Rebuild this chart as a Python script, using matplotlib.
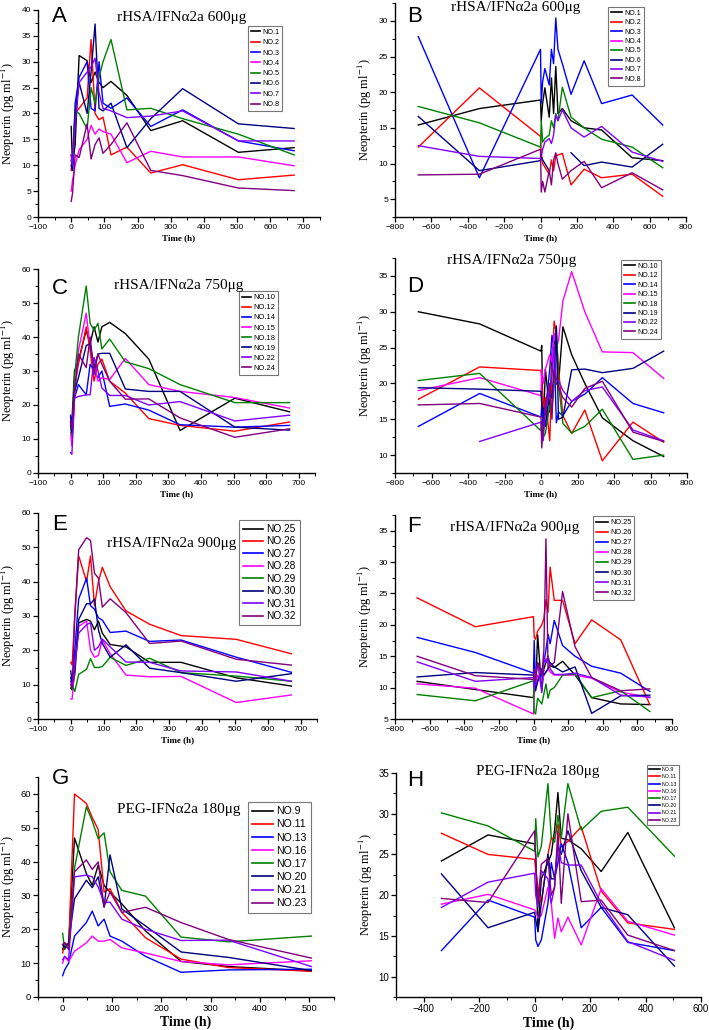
import numpy as np
import matplotlib
matplotlib.use('Agg')
import matplotlib.pyplot as plt
from matplotlib.ticker import MultipleLocator

plt.rcParams['font.family'] = ['Liberation Sans', 'DejaVu Sans']
plt.rcParams['mathtext.fontset'] = 'stix'

nan = np.nan
colors = ['#000000', '#FF0000', '#0000FF', '#FF00FF', '#008000', '#000080', '#8000FF', '#800080']

# ---- time points ----
t_post = [0, 4, 12, 24, 48, 60, 72, 84, 96, 120, 168, 240, 336, 504, 672]
t_full = [-672, -336, 0, 4, 12, 24, 48, 60, 72, 84, 96, 120, 168, 240, 336, 504, 672]
t_peg = [0, 4, 12, 24, 48, 60, 72, 84, 96, 120, 168, 240, 336, 504]
t_peg_full = [-336, -168, 0, 4, 12, 24, 48, 60, 72, 84, 96, 120, 168, 240, 336, 504]

# ---- subjects ----
names_600 = ['NO.1', 'NO.2', 'NO.3', 'NO.4', 'NO.5', 'NO.6', 'NO.7', 'NO.8']
names_750 = ['NO.10', 'NO.12', 'NO.14', 'NO.15', 'NO.18', 'NO.19', 'NO.22', 'NO.24']
names_900 = ['NO.25', 'NO.26', 'NO.27', 'NO.28', 'NO.29', 'NO.30', 'NO.31', 'NO.32']
names_peg = ['NO.9', 'NO.11', 'NO.13', 'NO.16', 'NO.17', 'NO.20', 'NO.21', 'NO.23']

# ---- A: 600ug, post-dose ----
A_vals = [
    [17.5, 10, 14, 31.2, 30.2, 26, 28, 26, 25, 26.2, 23.5, 16.7, 18.6, 12.5, 13.4],
    [9, 12, 20, 21, 23, 34.3, 20, 18.8, 19.3, 12, 13.5, 8.5, 10.1, 7.2, 8.1],
    [11, 9, 22, 27, 30, 21, 20.5, 30, 22, 21, 23, 17.5, 20.7, 14.7, 12.8],
    [5, 7, 10, 13, 15, 17.7, 16, 17, 16.5, 16, 10.5, 12.7, 11.6, 11.6, 9.9],
    [12, 10, 20.5, 20, 17, 25, 22, 27, 30, 34.3, 20.7, 21, 19, 16, 12],
    [10, 9, 20, 26, 20, 28, 37.3, 21, 20.5, 22, 13.4, 19, 24.8, 18, 17.1],
    [12, 10, 18, 26, 28, 29, 30.7, 24, 21, 20.5, 19.2, 19.5, 20.5, 14.7, 14.7],
    [3, 4.5, 12, 11.5, 18, 11.2, 14, 15.3, 12.3, 14, 18.2, 9, 8, 5.6, 5.1],
]

# ---- B: 600ug, with pre-dose ----
B_vals = [
    [15.4, 17.7, 18.9, 16, 18.5, 20.6, 16.5, 22, 17, 23.6, 17, 17.7, 16, 15, 14.7, 10.8, 10.4],
    [12.3, 20.6, 13.8, 11.5, 10, 9.5, 8.5, 10.5, 9, 11, 11.2, 11.4, 7, 9.2, 8, 8.5, 5.4],
    [27.8, 8, 26, 18.5, 21.5, 23.3, 21, 26, 24, 30.4, 26, 24, 19.7, 24.4, 18.4, 19.6, 15.4],
    [nan] * 17,
    [18, 15.7, 12.3, 16, 13, 13.5, 14, 16, 15, 17, 16, 20.7, 16.5, 15, 13.4, 12.3, 9.4],
    [16.6, 9, 10.4, 11, 10.5, 10, 9, nan, nan, nan, nan, nan, 11.5, 9.7, 10.2, 9.5, 12.7],
    [12.5, 11, 10.7, 11, 12, 13, 13.5, 12.8, 14, 16.8, 16, 17.5, 15, 13.7, 15.2, 11.6, 10.3],
    [8.4, 8.5, 12, 6, 7.5, 6, 9, 7, 10.5, 11.5, 10, 7.8, 9, 10.3, 6.6, 8.7, 6.3],
]

# ---- C: 750ug, post-dose ----
C_vals = [
    [16.5, 15, 30, 33, 42, 38, 43, 38.5, 43, 44.3, 41, 33.5, 12.5, 22, 18],
    [14, 12, 25, 32, 43, 36, 27, 32, 33.5, 27, 23.5, 16, 14, 12.3, 15],
    [17, 10, 22, 26, 23, 32, 30, 28, 30, 19.6, 20.3, 18.5, 14.2, 13.5, 14],
    [12, 8, 22, 36, 47, 37, 32, 27, 28, 27.5, 33.7, 26, 24, 22.2, 19.1],
    [14, 11, 28, 40, 55, 44, 42, 44, 36.5, 39.4, 32.7, 30.7, 26, 20.7, 20.7],
    [15, 12, 24, 28, 37.5, 38, 31, 35, 35.2, 35.2, 24.7, 24, 24, 13.5, 12.6],
    [6, 5.5, 22, 22.5, 23, 23, 34, 30, 25, 22.8, 22.8, 20, 21, 15.3, 17],
    [15, 13, 24, 35, 31, 40, 29, 35, 32, 27, 21.7, 21.8, 16.2, 10.5, 13],
]

# ---- D: 750ug, with pre-dose ----
D_vals = [
    [30, 28.3, 24.5, 25.3, 13, 22, 16, 24, 26, 25, 20, 27.9, 24, 20, 15.2, 12, 9.8],
    [17.8, 22.3, 21.8, 20.5, 16, 18, 12, 22, 28.7, 27, 22, 15.5, 13, 16.3, 9.2, 14.6, 11.8],
    [14, 18.6, 15.3, 17, 14, 16, 22, 26.7, 25, 14.5, 16, 15.5, 17.5, 18.5, 20.8, 17.2, 15.9],
    [19, 20.8, 18.3, 22, 20, 22, 24, 23, 27, 25, 26, 31.5, 35.6, 30, 24.4, 24.3, 20.7],
    [20.4, 21.4, 13.4, 14, 12.5, 13, 17, 16.5, 20, 28, 20, 14.4, 13.1, 14, 16.4, 9.4, 10],
    [19.4, 19.2, 18.9, 17, 16.5, 14, 19, 18, 22, 28, 15, 15.3, 21.9, 22, 21.5, 22.1, 24.5],
    [nan, 11.9, 14.6, 13, 12, 16, 19, 21, 25, 20.5, 20.4, 19, 17.5, 19, 19.5, 13.5, 12],
    [17, 17.2, 15.3, 11, 14, 17, 20, 15, 22, 20, 19.5, 18, 16.7, 19.3, 20.3, 13.2, 11.9],
]

# ---- E: 900ug, post-dose ----
E_vals = [
    [9, 8.5, 13, 28, 29, 28.5, 26, 28.5, 25, 21.7, 21, 16.5, 16.5, 12, 9.6],
    [16.5, 15.7, 30, 47.5, 40, 47.5, 33, 40, 44.2, 38.5, 31.5, 27.6, 24.3, 23.2, 19],
    [12, 9, 20, 35, 41, 33, 32, 29.5, 28.8, 25.2, 25.6, 22.6, 23, 18, 13.6],
    [5.8, 5.8, 15, 27, 28.5, 20, 18, 18.5, 23, 19, 12.8, 12.3, 12.4, 4.8, 7],
    [9, 10, 8, 13, 14.5, 17.6, 15, 15, 15.3, 18, 15.6, 17.7, 13.5, 12.5, 11],
    [14, 10, 15, 29, 33.6, 33.5, 35, 26, 22, 18, 21.6, 14.8, 13.5, 11, 13.2],
    [11, 9, 16, 25, 27.5, 28, 20, 21, 23.3, 21, 16.6, 16.5, 14, 13.7, 11],
    [10, 9, 30, 49.3, 52.8, 52, 42.5, 41, 32.6, 35, 31, 22, 22.7, 17.4, 15.7],
]

# ---- F: 900ug, with pre-dose ----
F_vals = [
    [11, 9.7, 8.4, 12, 10, 18.4, 9.5, 13, 14, 15, 13.5, 13.2, 14.2, 12, 8.4, 7.4, 7.3],
    [24.3, 19.7, 21.3, 18, 17.7, 19, 20, 21, 24, 22, 29.2, 23.9, 23.9, 17, 20.8, 17.6, 7.3],
    [18, 15.6, 12.3, 17.5, 10, 11, 12, 14, 16, 18.5, 17, 20.7, 16.7, 15, 13.4, 12.3, 9.4],
    [10.6, 9.9, 5.8, 9, 10, 12, 11, 12, 12.5, 13, 12.5, 12, 12, 12, 11.5, 9.3, 8.4],
    [8.9, 7.9, 11.1, 6, 5.8, 8.3, 7.4, 9, 10.6, 8.3, 9.6, 10, 12, 12.2, 8.4, 9.5, 6.2],
    [11.7, 12.4, 12, 11, 9.5, 11, 13, 12, 12.5, 13, 14, 13.3, 12.5, 13.3, 5.9, 8.7, 8.8],
    [14.1, 11, 11.6, 10, 12, 14, 9.2, 15, 14, 15, 13, 12.1, 12.1, 12.3, 11.6, 8.8, 8.5],
    [15, 11.9, 11.3, 13, 11, 14, 12, 16, 33.7, 13, 13.5, 14, 25.3, 16.5, 11.6, 9.5, 9.8],
]

# ---- G: PEG 180ug, post-dose ----
G_vals = [
    [14, 16, 15, 47, 36.5, 33, 39, 33, 31, 27.5, 19.5, 10.5, 9, 7.7],
    [13, 16, 15, 60, 57.2, 53, 49.5, 31, 32, 25, 17.5, 11.2, 8.7, 7.6],
    [6.3, 8, 10, 18, 22, 25.4, 21, 23, 18, 16.5, 12, 7.3, 8, 8.2],
    [10, 12, 10.5, 13.5, 16, 18, 16.5, 16.5, 17, 14.5, 13, 10.5, 9.5, 10.7],
    [18.8, 14, 16, 38, 56.2, 52, 46.8, 48.5, 37, 31.5, 29.8, 17.7, 16.3, 18],
    [15.5, 14.5, 16, 29, 34.5, 32.3, 35.5, 26.5, 42, 26, 21, 13.3, 11.7, 7.8],
    [11, 12, 11, 35.5, 36, 35.5, 32.5, 28, 28, 23, 20, 16.7, 16.8, 9],
    [15.5, 16, 14, 37, 40.5, 37.7, 39.9, 26.7, 31, 25, 26.5, 22, 17, 11.5],
]

# ---- H: PEG 180ug, with pre-dose ----
H_vals = [
    [24.2, 27.4, 26.3, 25, 15.6, 22, 24, 25, 28, 32.6, 27, 26.8, 25.7, 22.9, 27.7, 16],
    [27.6, 25, 24.4, 23, 21, 19, 25, 27, 27, 28.7, 26, 26.6, 28.4, 20.5, 16.6, 15.8],
    [13.2, 19.4, 17.3, 14.5, 13.7, 14.5, 19, 24, 22, 24, 26.3, 24, 16, 18.5, 14.2, 13.2],
    [18.9, 20.1, 18.2, 18, 17.2, 17.5, 21, 19, 14.7, 17.2, 15.5, 17.3, 13.9, 20.8, 16.8, 15.1],
    [30.1, 28.5, 25.4, 29.4, 24.7, 26, 33.7, 27, 26.5, 29.8, 27, 33.7, 28, 30.3, 30.8, 24.8],
    [22.6, 16, 17.9, 17, 15.5, 19, 25, 22, 22, 26, 25, 27.9, 23, 18.5, 17.6, 11.3],
    [18.5, 21.6, 22.7, 20, 18.5, 23, 22, 19, 21, 26.5, 24, 23.7, 23.7, 19, 14.3, 12],
    [19.6, 19.1, 27.9, 24, 19, 23.8, 24.5, 20, 21, 28, 19, 30, 19.2, 19.4, 15.1, 13.2],
]

W, H = 709, 1030
fig = plt.figure(figsize=(W / 100, H / 100), dpi=100)
fig.patch.set_facecolor('white')


def px_axes(l, t, r, b):
    return fig.add_axes([l / W, 1 - b / H, (r - l) / W, (b - t) / H])


# (letter, title, t, vals, names, axes px, xlim, xmaj, xmin, ylim, ymaj, ymin,
#  title pos, letter pos, legend pos, legend font, row gap, handle len, tick font, xlabel font)
panels = [
    ('A', 'rHSA/IFNα2a 600μg', t_post, A_vals, names_600, (38, 10, 320, 217),
     (-100, 750), 100, 50, (0, 40), 5, 2.5, (182, 18), (52, 17), (248, 26), 5.2, 0.45, 1.3, 6, 6.5),
    ('B', 'rHSA/IFNα2a 600μg', t_full, B_vals, names_600, (395, 3, 686, 217),
     (-800, 800), 200, 100, (2.5, 32.5), 5, 2.5, (516, 8), (407, 17), (608, 7), 5.0, 0.35, 1.6, 6, 6.5),
    ('C', 'rHSA/IFNα2a 750μg', t_post, C_vals, names_750, (38, 269, 315, 473),
     (-100, 750), 100, 50, (0, 60), 10, 5, (179, 285), (52, 288), (239, 291), 5.4, 0.38, 1.2, 6, 6.5),
    ('D', 'rHSA/IFNα2a 750μg', t_full, D_vals, names_750, (395, 258, 687, 473),
     (-800, 800), 200, 100, (7.5, 37.5), 5, 2.5, (512, 261), (407, 287), (621, 260), 5.0, 0.35, 1.6, 6, 6.5),
    ('E', 'rHSA/IFNα2a 900μg', t_post, E_vals, names_900, (38, 513, 317, 719),
     (-100, 750), 100, 50, (0, 60), 10, 5, (172, 543), (52, 525), (239, 520), 7.3, 0.24, 2.0, 6, 6.5),
    ('F', 'rHSA/IFNα2a 900μg', t_full, F_vals, names_900, (395, 515, 672, 719),
     (-800, 800), 200, 100, (5, 37.5), 5, 2.5, (515, 527), (407, 527), (593, 516), 5.3, 0.4, 1.6, 6, 6.5),
    ('G', 'PEG-IFNα2a 180μg', t_peg, G_vals, names_peg, (38, 777, 334, 997),
     (-50, 550), 100, 50, (0, 65), 10, 5, (179, 810), (52, 778), (248, 802), 7.6, 0.3, 2.0, 6.8, 10),
    ('H', 'PEG-IFNα2a 180μg', t_peg_full, H_vals, names_peg, (396, 773, 701, 997),
     (-500, 600), 200, 100, (7.5, 35), 5, 2.5, (538, 771), (407, 780), (647, 765), 3.8, 0.42, 2.0, 7, 10),
]

for (letter, title, tt, vals, names, box, xlim, xmaj, xmin, ylim, ymaj, ymin,
     tpos, lpos, legpos, legfs, rowgap, hlen, tickfs, xlfs) in panels:
    ax = px_axes(*box)
    for i, (v, name) in enumerate(zip(vals, names)):
        ax.plot(tt, v, color=colors[i], lw=1.0, label=name)
    ax.set_xlim(*xlim)
    ax.set_ylim(*ylim)
    ax.xaxis.set_major_locator(MultipleLocator(xmaj))
    ax.xaxis.set_minor_locator(MultipleLocator(xmin))
    ax.yaxis.set_major_locator(MultipleLocator(ymaj))
    ax.yaxis.set_minor_locator(MultipleLocator(ymin))
    for s in ['top', 'right']:
        ax.spines[s].set_visible(False)
    for s in ['left', 'bottom']:
        ax.spines[s].set_linewidth(1.0)
    ax.tick_params(which='major', direction='out', length=3.5, width=0.9, labelsize=tickfs, pad=1.5)
    ax.tick_params(which='minor', direction='out', length=2, width=0.7)
    ax.set_xlabel('Time (h)', family='Liberation Serif', fontweight='bold', fontsize=xlfs, labelpad=2)
    ax.set_ylabel(r'Neopterin (pg ml$^{-1}$)', family='Liberation Serif', fontsize=9)
    ax.yaxis.set_label_coords(-21 / (box[2] - box[0]), 0.5)
    fig.text(tpos[0] / W, 1 - tpos[1] / H, title, family='Liberation Serif', fontsize=11,
             ha='center', va='center')
    fig.text(lpos[0] / W, 1 - lpos[1] / H, letter, fontsize=16, ha='left', va='center')
    leg = ax.legend(loc='upper left', bbox_to_anchor=(legpos[0] / W, 1 - legpos[1] / H),
                    bbox_transform=fig.transFigure, fontsize=legfs, frameon=True,
                    fancybox=False, edgecolor='#555555', borderpad=0.4, labelspacing=rowgap,
                    handlelength=hlen, handletextpad=0.3, borderaxespad=0)
    leg.get_frame().set_linewidth(0.8)
    for ln in leg.get_lines():
        ln.set_linewidth(1.2)

fig.savefig('out.png', dpi=100, facecolor='white')
